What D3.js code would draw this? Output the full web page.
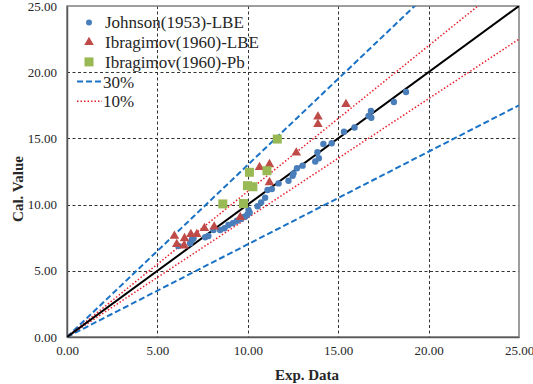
<!DOCTYPE html>
<html>
<head>
<meta charset="utf-8">
<script src="https://cdn.jsdelivr.net/npm/d3@7"></script>
<style>
    body { margin: 0; background: #fff; }
    svg text { font-family: 'Liberation Serif', 'Times New Roman', serif; fill: #262626; }
</style>
</head>
<body>
<div id="chart"></div>
<script>
// Data
const johnson = [
    [6.16, 6.87], [6.81, 7.08], [6.9, 7.33], [7.0, 7.45], [7.64, 7.53], [7.82, 7.63],
    [8.1, 8.08], [8.47, 8.08], [8.71, 8.21], [8.93, 8.46], [9.17, 8.6], [9.4, 8.78],
    [9.6, 8.9], [9.73, 9.04], [9.86, 9.1], [9.98, 9.25], [10.04, 9.59], [10.1, 9.4],
    [10.54, 9.87], [10.74, 10.17], [10.96, 10.52], [11.09, 11.1], [11.33, 11.17],
    [11.7, 11.6], [12.25, 11.8], [12.48, 12.18], [12.53, 12.36], [12.72, 12.74],
    [13.03, 12.94], [13.73, 13.26], [13.93, 13.5], [13.85, 13.95], [14.18, 14.58],
    [14.64, 14.63], [15.32, 15.5], [15.9, 15.82], [16.68, 16.7], [16.83, 16.56],
    [16.81, 17.07], [18.08, 17.75], [18.75, 18.5]
];
const ibragimovLBE = [
    [5.94, 7.63], [6.07, 7.0], [6.5, 7.45], [6.48, 6.9], [6.85, 7.76], [7.18, 7.76],
    [7.6, 8.21], [8.14, 8.33], [9.58, 9.04], [10.65, 12.82], [11.2, 13.04], [11.2, 11.68],
    [12.68, 13.92], [13.88, 16.07], [13.88, 16.64], [15.43, 17.58]
];
const ibragimovPb = [
    [8.62, 10.05], [9.76, 10.08], [9.98, 11.43], [10.28, 11.35], [10.09, 12.44],
    [11.06, 12.56], [11.63, 14.95]
];
const ticks = [0, 5, 10, 15, 20, 25];
const bandFactors = [1.3, 0.7];   // 30%
const innerFactors = [1.1, 0.9];  // 10%
const legendNames = ["Johnson(1953)-LBE", "Ibragimov(1960)-LBE", "Ibragimov(1960)-Pb", "30%", "10%"];

const margin = { top: 6, right: 14, bottom: 47, left: 67 },
    width = 533 - margin.left - margin.right,
    height = 384 - margin.top - margin.bottom;

const svg = d3.select("#chart")
    .append("svg")
    .attr("width", 533)
    .attr("height", 384)
    .append("g")
    .attr("transform", "translate(" + margin.left + "," + margin.top + ")");

const x = d3.scaleLinear().domain([0, 25]).range([0, width]);
const y = d3.scaleLinear().domain([0, 25]).range([height, 0]);

svg.append("clipPath").attr("id", "clip")
    .append("rect").attr("width", width).attr("height", height);

// Gridlines
const grid = svg.append("g").attr("class", "grid");
ticks.slice(1, -1).forEach(t => {
    grid.append("line")
        .attr("x1", Math.round(x(t)) + 0.5).attr("x2", Math.round(x(t)) + 0.5)
        .attr("y1", 0).attr("y2", height)
        .style("stroke", "#333").style("stroke-width", 1).style("stroke-dasharray", "3,2.5");
    grid.append("line")
        .attr("x1", 0).attr("x2", width)
        .attr("y1", Math.round(y(t)) + 0.5).attr("y2", Math.round(y(t)) + 0.5)
        .style("stroke", "#333").style("stroke-width", 1).style("stroke-dasharray", "3,2.5");
});

// Plot border
svg.append("rect")
    .attr("width", width).attr("height", height)
    .attr("fill", "none").attr("stroke", "#7f7f7f").attr("stroke-width", 1.5);

// Axes
const xAxis = d3.axisBottom(x).tickValues(ticks).tickFormat(d3.format(".2f")).tickSize(0).tickPadding(9);
const yAxis = d3.axisLeft(y).tickValues(ticks).tickFormat(d3.format(".2f")).tickSize(0).tickPadding(10);
svg.append("g")
    .attr("transform", "translate(0," + height + ")")
    .call(xAxis)
    .call(g => g.select(".domain").attr("stroke", "#595959").attr("stroke-width", 1.5))
    .selectAll("text")
    .style("font-family", "'Liberation Serif', serif")
    .style("font-size", "13px");
svg.append("g")
    .call(yAxis)
    .call(g => g.select(".domain").attr("stroke", "#595959").attr("stroke-width", 1.5))
    .selectAll("text")
    .style("font-family", "'Liberation Serif', serif")
    .style("font-size", "13px");

// Reference lines
const refLine = k => d3.line()([[x(0), y(0)], [x(25), y(25 * k)]]);
const lines = svg.append("g").attr("clip-path", "url(#clip)");
bandFactors.forEach(k => {
    lines.append("path").attr("d", refLine(k))
        .attr("stroke", "#1a72c6").attr("stroke-width", 2).attr("stroke-dasharray", "6,3").attr("fill", "none");
});
innerFactors.forEach(k => {
    lines.append("path").attr("d", refLine(k))
        .attr("stroke", "#e8202a").attr("stroke-width", 1.5).attr("stroke-dasharray", "1.5,2").attr("fill", "none");
});
lines.append("path").attr("d", refLine(1))
    .attr("stroke", "#000").attr("stroke-width", 2).attr("fill", "none");

// Markers
const triangle = d3.symbol().type(d3.symbolTriangle).size(40);
svg.append("g").selectAll("circle")
    .data(johnson)
    .enter().append("circle")
    .attr("cx", d => x(d[0])).attr("cy", d => y(d[1])).attr("r", 3.2)
    .attr("fill", "#4a7ebb");
svg.append("g").selectAll("path")
    .data(ibragimovLBE)
    .enter().append("path")
    .attr("d", triangle)
    .attr("transform", d => "translate(" + x(d[0]) + "," + y(d[1]) + ")")
    .attr("fill", "#be4b48");
svg.append("g").selectAll("rect")
    .data(ibragimovPb)
    .enter().append("rect")
    .attr("x", d => x(d[0]) - 4.5).attr("y", d => y(d[1]) - 4.5)
    .attr("width", 9).attr("height", 9)
    .attr("fill", "#98b954");

// Legend
const legend = svg.append("g");
const rowY = i => 16.5 + i * 19.7;
legend.append("circle").attr("cx", 22).attr("cy", rowY(0)).attr("r", 3).attr("fill", "#4a7ebb");
legend.append("path").attr("d", triangle).attr("transform", "translate(22," + rowY(1) + ")").attr("fill", "#be4b48");
legend.append("rect").attr("x", 17.5).attr("y", rowY(2) - 4.5).attr("width", 9).attr("height", 9).attr("fill", "#98b954");
legend.append("line").attr("x1", 10).attr("x2", 35).attr("y1", rowY(3)).attr("y2", rowY(3))
    .attr("stroke", "#1a72c6").attr("stroke-width", 2).attr("stroke-dasharray", "6,3");
legend.append("line").attr("x1", 10).attr("x2", 35).attr("y1", rowY(4)).attr("y2", rowY(4))
    .attr("stroke", "#e8202a").attr("stroke-width", 1.5).attr("stroke-dasharray", "1.5,2");
legend.selectAll("text.leg")
    .data(legendNames)
    .enter().append("text")
    .attr("class", "leg")
    .attr("x", (d, i) => i < 3 ? 38 : 36)
    .attr("y", (d, i) => rowY(i))
    .attr("dy", "0.35em")
    .style("font-family", "'Liberation Serif', serif")
    .style("font-size", "17px")
    .text(d => d);

// Axis titles
svg.append("text")
    .attr("x", 240).attr("y", height + 43)
    .attr("text-anchor", "middle")
    .style("font-family", "'Liberation Serif', serif")
    .style("font-size", "15px").style("font-weight", "bold")
    .text("Exp. Data");
svg.append("text")
    .attr("transform", "translate(-44," + 183 + ") rotate(-90)")
    .attr("text-anchor", "middle")
    .style("font-family", "'Liberation Serif', serif")
    .style("font-size", "15px").style("font-weight", "bold")
    .text("Cal. Value");
</script>
</body>
</html>
